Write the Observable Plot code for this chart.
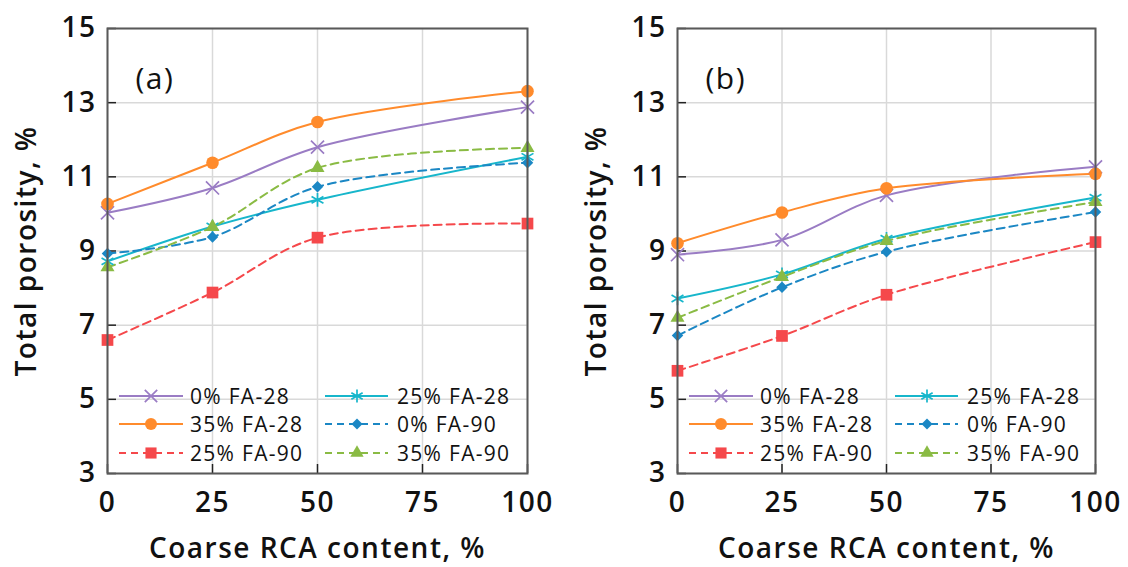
<!DOCTYPE html>
<html><head><meta charset="utf-8">
<script src="https://cdn.jsdelivr.net/npm/d3@7"></script>
<script src="https://cdn.jsdelivr.net/npm/@observablehq/plot@0.6"></script>
<style>
html,body{margin:0;padding:0;background:#fff;}
#wrap{position:relative;width:1128px;height:567px;overflow:hidden;}
.panel{position:absolute;top:0;}
</style></head><body><div id="wrap"></div>
<script>
const xTicks = [0, 25, 50, 75, 100];
const yTicks = [3, 5, 7, 9, 11, 13, 15];
const rcaContent = [0, 25, 50, 100];
const seriesNames = ["0% FA-28", "25% FA-28", "35% FA-28", "0% FA-90", "25% FA-90", "35% FA-90"];
const seriesColors = ["#9a7cc4", "#17b6cb", "#ff8b2c", "#1b87c4", "#f5484b", "#8abb44"];
const seriesSymbols = ["times", "asterisk", "circle", "diamond2", "square", "triangle"];
const seriesDashed = [false, false, false, true, true, true];
const panelA = [
  [10.03, 10.70, 11.80, 12.88],
  [8.72, 9.66, 10.38, 11.54],
  [10.27, 11.38, 12.48, 13.31],
  [8.93, 9.38, 10.73, 11.38],
  [6.60, 7.88, 9.36, 9.74],
  [8.56, 9.65, 11.24, 11.78]
];
const panelB = [
  [8.90, 9.30, 10.50, 11.27],
  [7.72, 8.37, 9.33, 10.44],
  [9.21, 10.04, 10.69, 11.08],
  [6.72, 8.02, 8.98, 10.05],
  [5.77, 6.71, 7.82, 9.24],
  [7.20, 8.30, 9.27, 10.32]
];
const FONT = "'Open Sans', 'DejaVu Sans', sans-serif";

function symbolStyle(si) {
  const sym = seriesSymbols[si];
  const strokeOnly = sym === "times" || sym === "asterisk";
  const r = {times: 6, asterisk: 6.5, circle: 6.3, diamond2: 5.2, square: 6.6, triangle: 5.2}[sym];
  return strokeOnly
    ? {symbol: sym, r, fill: "none", stroke: seriesColors[si], strokeWidth: 1.7}
    : {symbol: sym, r, fill: seriesColors[si], stroke: "none"};
}

function makePanel(values, tag, left, width, mLeft, mRight) {
  const data = [];
  values.forEach((vals, si) => vals.forEach((v, j) => data.push({si, x: rcaContent[j], y: v})));
  const marks = [
    Plot.gridY(yTicks, {stroke: "#d9d9d9", strokeOpacity: 1, strokeWidth: 1.5}),
    Plot.gridX(xTicks, {stroke: "#d9d9d9", strokeOpacity: 1, strokeWidth: 1.5}),
    Plot.axisY(yTicks, {anchor: "left", tickSize: 9, dx: 9, tickFormat: () => "", label: null, stroke: "#222", strokeWidth: 1.5}),
    Plot.axisX(xTicks, {anchor: "bottom", tickSize: 9, dy: -9, tickFormat: () => "", label: null, stroke: "#222", strokeWidth: 1.5}),
    Plot.axisY(yTicks, {anchor: "left", tickSize: 0, tickPadding: 11, label: "Total porosity, %", labelArrow: "none", labelAnchor: "center", labelOffset: 91, fill: "#111"}),
    Plot.axisX(xTicks, {anchor: "bottom", tickSize: 0, tickPadding: 19, label: "Coarse RCA content, %", labelArrow: "none", labelAnchor: "center", labelOffset: 84, fill: "#111"})
  ];
  values.forEach((vals, si) => {
    const d = data.filter(p => p.si === si);
    marks.push(Plot.line(d, {x: "x", y: "y", stroke: seriesColors[si], strokeWidth: 2, curve: "catmull-rom",
      strokeDasharray: seriesDashed[si] ? "8,5" : null}));
  });
  values.forEach((vals, si) => {
    const d = data.filter(p => p.si === si);
    marks.push(Plot.dot(d, {x: "x", y: "y", ...symbolStyle(si)}));
  });
  marks.push(Plot.frame({stroke: "#595959", strokeWidth: 2}));
  marks.push(Plot.text([tag], {frameAnchor: "top-left", dx: 28, dy: 39, text: d => d, fontSize: 30, fontWeight: 400, textAnchor: "start", fill: "#111"}));

  const plot = Plot.plot({
    width, height: 567,
    marginLeft: mLeft, marginRight: mRight, marginTop: 28, marginBottom: 94,
    x: {domain: [0, 100]},
    y: {domain: [3, 15]},
    style: {fontFamily: FONT, fontSize: "28px", fontWeight: 600, letterSpacing: "1.5px", background: "transparent", color: "#111"},
    marks
  });
  plot.classList.add("panel");
  plot.style.left = left + "px";
  document.getElementById("wrap").appendChild(plot);

  // legend inside the plot frame, bottom-left
  const svg = d3.select(plot);
  const frameLeft = mLeft, frameBottom = 567 - 94;
  const g = svg.append("g").attr("font-family", FONT).attr("font-size", 21).attr("font-weight", 400)
    .attr("text-anchor", "start").attr("letter-spacing", "1.3px");
  const cols = [{l0: 12, l1: 76, m: 44, t: 83}, {l0: 218, l1: 281, m: 250, t: 290}];
  const rows = [-77, -49, -20];
  const symMap = {times: d3.symbolTimes, asterisk: d3.symbolAsterisk, circle: d3.symbolCircle, diamond2: d3.symbolDiamond2, square: d3.symbolSquare, triangle: d3.symbolTriangle};
  seriesNames.forEach((name, i) => {
    const c = cols[i % 2], yy = frameBottom + rows[Math.floor(i / 2)];
    g.append("line").attr("x1", frameLeft + c.l0).attr("x2", frameLeft + c.l1).attr("y1", yy).attr("y2", yy)
      .attr("stroke", seriesColors[i]).attr("stroke-width", 2).attr("stroke-dasharray", seriesDashed[i] ? "7,5" : null);
    const st = symbolStyle(i);
    const rr = st.r * 0.95;
    g.append("path").attr("d", d3.symbol(symMap[st.symbol], Math.PI * rr * rr)())
      .attr("transform", `translate(${frameLeft + c.m},${yy})`)
      .attr("fill", st.fill).attr("stroke", st.stroke).attr("stroke-width", st.strokeWidth || null);
    g.append("text").attr("x", frameLeft + c.t).attr("y", yy).attr("dy", "0.36em").attr("fill", "#111").text(name);
  });
}

makePanel(panelA, "(a)", 0, 564, 107, 37);
makePanel(panelB, "(b)", 564, 564, 113, 33);
</script>
</body></html>
